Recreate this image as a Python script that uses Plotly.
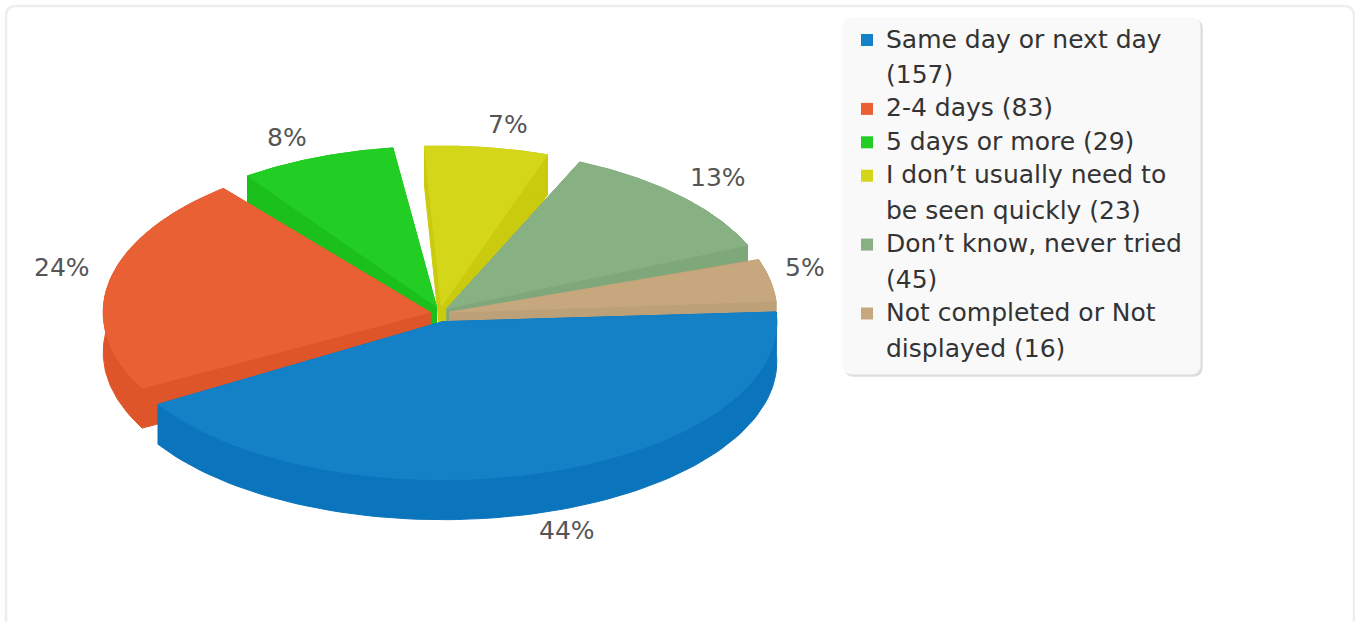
import math
import plotly.graph_objects as go

categories = ["Same day or next day (157)", "2-4 days (83)", "5 days or more (29)",
              "I don’t usually need to be seen quickly (23)", "Don’t know, never tried (45)",
              "Not completed or Not displayed (16)"]
legend_lines = [["Same day or next day", "(157)"], ["2-4 days (83)"], ["5 days or more (29)"],
                ["I don’t usually need to", "be seen quickly (23)"],
                ["Don’t know, never tried", "(45)"], ["Not completed or Not", "displayed (16)"]]
values = [157, 83, 29, 23, 45, 16]
top_colors = ["#1480C6", "#E96034", "#22CE24", "#D4D61A", "#88B183", "#C6A77E"]
wall_colors = ["#0A74BC", "#DE5529", "#1BC01C", "#CACA0E", "#7FA87A", "#BCA077"]

label_pos = [(567, 530), (62, 267), (287, 137), (508, 124), (718, 177), (805, 267)]
angle_nudge = [0, -0.7, -0.7, 0, 1, 1]   # small perspective shift of each slice, degrees

CX, CY = 440, 314
RX, RY = 327, 160
FRONT_RX, FRONT_RY = 334, 158   # the front slice looks larger in the perspective view
DEPTH = 40
EX, EY = 10, 8
START = -1.0
GAP = 4.0
FRONT_START_EXTRA = 2.5

total = sum(values)
scale = (360 - GAP * len(values)) / total

spans = []
a = START
for v in values:
    spans.append((a, a + v * scale))
    a += v * scale + GAP


def slice_geom(i):
    a0, a1 = spans[i]
    mid = math.radians((a0 + a1) / 2)
    cx = CX + EX * math.cos(mid)
    cy = CY + EY * math.sin(mid)
    rx, ry = (FRONT_RX, FRONT_RY) if i == 0 else (RX, RY)
    if i == 0:
        a0 -= FRONT_START_EXTRA
    a0 += angle_nudge[i]
    a1 += angle_nudge[i]
    n = 90
    ax, ay = [], []
    for k in range(n + 1):
        t = math.radians(a0 + (a1 - a0) * k / n)
        ax.append(cx + rx * math.cos(t))
        ay.append(cy + ry * math.sin(t))
    return cx, cy, ax, ay


fig = go.Figure()


def poly(xs, ys, color):
    fig.add_trace(go.Scatter(x=xs, y=ys, mode="lines", fill="toself", fillcolor=color,
                             line=dict(color=color, width=1), hoverinfo="skip", showlegend=False))


for i in [3, 2, 4, 5, 1, 0]:
    cx, cy, ax, ay = slice_geom(i)
    w = wall_colors[i]
    poly([cx, ax[0], ax[0], cx, cx], [cy, ay[0], ay[0] + DEPTH, cy + DEPTH, cy], w)
    poly([cx, ax[-1], ax[-1], cx, cx], [cy, ay[-1], ay[-1] + DEPTH, cy + DEPTH, cy], w)
    poly(ax + ax[::-1] + [ax[0]], ay + [y + DEPTH for y in ay[::-1]] + [ay[0]], w)
    poly([cx] + ax + [cx], [cy] + ay + [cy], top_colors[i])

annotations = []
for v, (lx, ly) in zip(values, label_pos):
    annotations.append(dict(x=lx, y=ly, xref="x", yref="y", showarrow=False,
                            text=f"{round(v / total * 100)}%",
                            font=dict(family="DejaVu Sans", size=25, color="#555555")))

y = 39.0
WITHIN, BETWEEN = 35.5, 33.4
for i, lines in enumerate(legend_lines):
    fig.add_trace(go.Scatter(x=[867], y=[y + 1], mode="markers",
                             marker=dict(symbol="square", size=12, color=top_colors[i]),
                             name=categories[i], hoverinfo="name", showlegend=False))
    for j, line in enumerate(lines):
        annotations.append(dict(x=884, y=y, xref="x", yref="y",
                                xanchor="left", showarrow=False, text=line,
                                font=dict(family="DejaVu Sans", size=25, color="#333333")))
        y += WITHIN if j < len(lines) - 1 else BETWEEN


def round_rect(x0, y0, x1, y1, r):
    return (f"M{x0 + r},{y0} L{x1 - r},{y0} Q{x1},{y0} {x1},{y0 + r} L{x1},{y1 - r} "
            f"Q{x1},{y1} {x1 - r},{y1} L{x0 + r},{y1} Q{x0},{y1} {x0},{y1 - r} "
            f"L{x0},{y0 + r} Q{x0},{y0} {x0 + r},{y0} Z")


shapes = [
    dict(type="path", path=round_rect(6, 6, 1354, 640, 10), layer="below",
         line=dict(color="#EEEEEE", width=2.5), fillcolor="#FFFFFF"),
    dict(type="path", path=round_rect(845, 20, 1202, 376, 9), layer="below",
         line=dict(color="#DDDDDD", width=1.5), fillcolor="#DDDDDD"),
    dict(type="path", path=round_rect(843, 18, 1200, 374, 9), layer="below",
         line=dict(color="#F9F9F9", width=1), fillcolor="#F9F9F9"),
]

fig.update_layout(
    width=1355, height=622, margin=dict(l=0, r=0, t=0, b=0),
    paper_bgcolor="#FFFFFF", plot_bgcolor="#FFFFFF", showlegend=False,
    xaxis=dict(range=[0, 1355], visible=False, fixedrange=True),
    yaxis=dict(range=[622, 0], visible=False, fixedrange=True),
    annotations=annotations, shapes=shapes,
)
fig.write_html("out.html", config={"displayModeBar": False},
               post_script="document.body.style.margin='0';document.documentElement.style.overflow='hidden';")
